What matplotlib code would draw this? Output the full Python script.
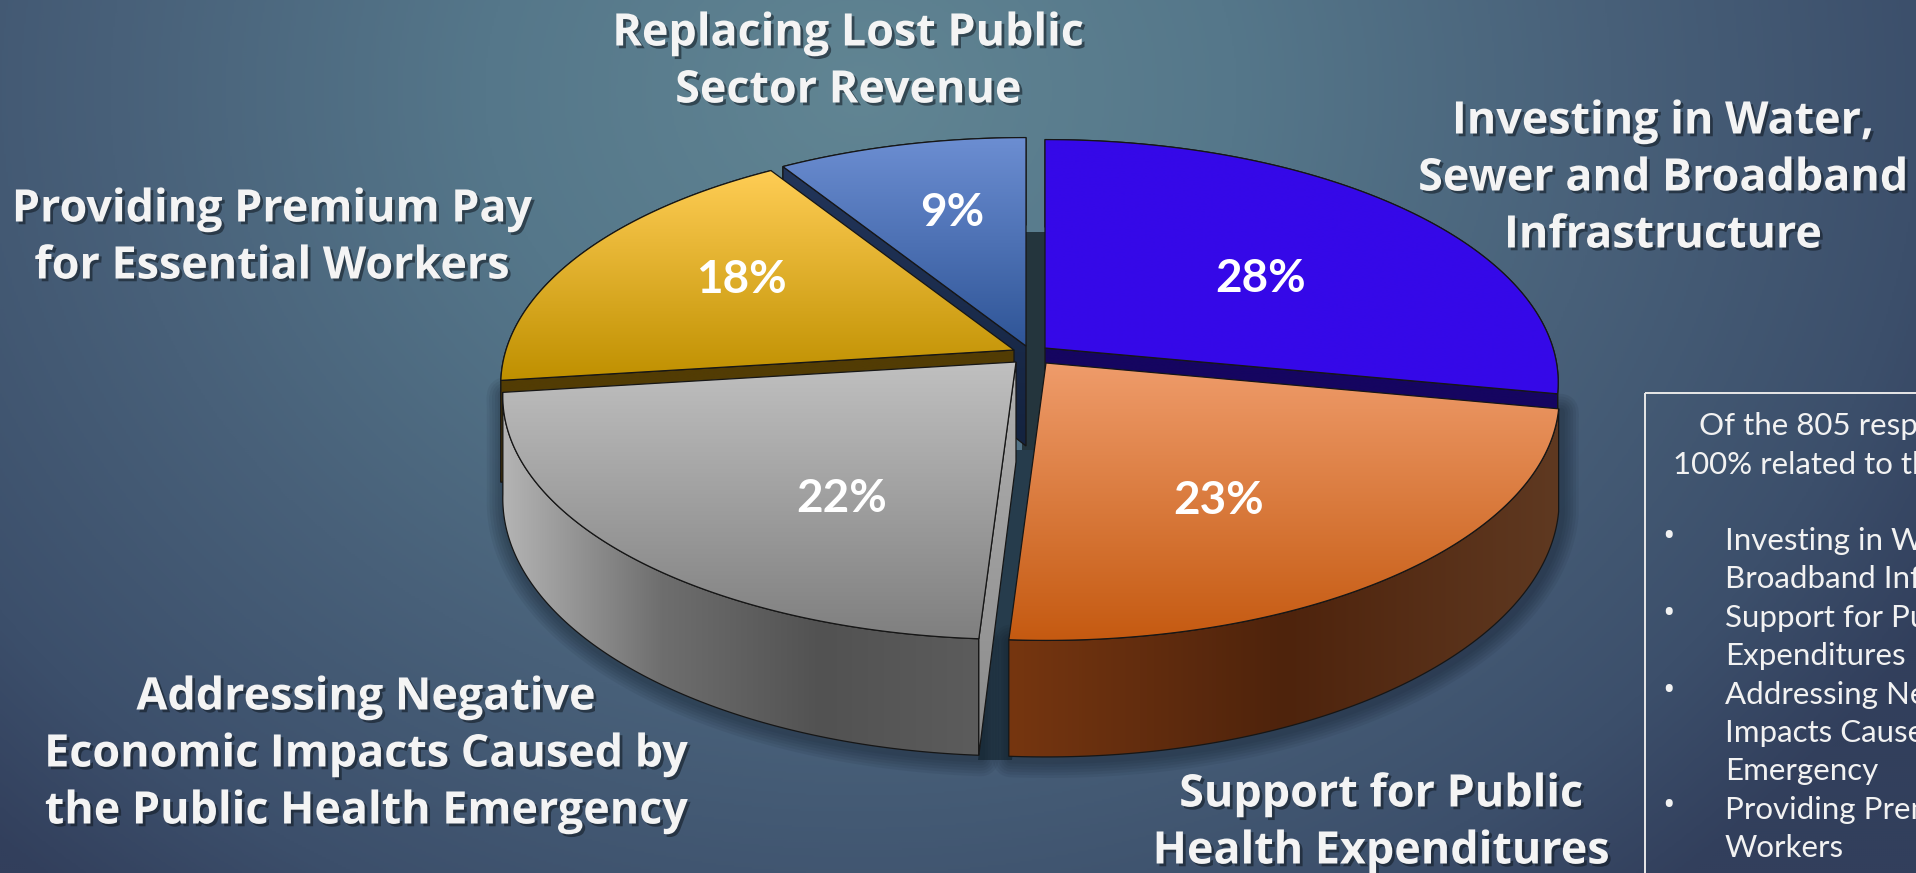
import numpy as np
import matplotlib
matplotlib.use('Agg')
import matplotlib.pyplot as plt
import matplotlib.patheffects as pe
from matplotlib.colors import LinearSegmentedColormap
from matplotlib.patches import Polygon, Rectangle

# data
values = [28, 23, 22, 18, 9]
pct_labels = ['28%', '23%', '22%', '18%', '9%']
slice_names = [
    ['Investing in Water,', 'Sewer and Broadband', 'Infrastructure'],
    ['Support for Public', 'Health Expenditures'],
    ['Addressing Negative', 'Economic Impacts Caused by', 'the Public Health Emergency'],
    ['Providing Premium Pay', 'for Essential Workers'],
    ['Replacing Lost Public', 'Sector Revenue'],
]
box_intro = ['Of the 805 responses,', '100% related to the']
box_lines = [
    ('•', 'Investing in Water, Sewer and'),
    ('', 'Broadband Infrastructure'),
    ('•', 'Support for Public Health'),
    ('', 'Expenditures'),
    ('•', 'Addressing Negative Economic'),
    ('', 'Impacts Caused by the Public Health'),
    ('', 'Emergency'),
    ('•', 'Providing Premium Pay for Essential'),
    ('', 'Workers'),
    ('•', 'Replacing Lost Public Sector Revenue'),
]

# slice styling, same order as values
tips = [(1045, 348), (1046, 363), (1016, 362), (1014, 350), (1026, 346)]
top_colors = [
    ['#3508E8', '#3508E8'],
    ['#EF9C6B', '#C55A11'],
    ['#C0C0C0', '#7F7F7F'],
    ['#FFCD55', '#BF9000'],
    ['#6C8ED2', '#2F5597'],
]
rim_colors = [
    ['#150560', '#150560'],
    ['#763610', '#4E230C', '#5F3921'],
    ['#B4B4B4', '#6E6E6E', '#525252', '#5C5C5C'],
    ['#523C04', '#523C04'],
    ['#1C2E52', '#1C2E52'],
]
# which end of the arc has a visible cut face, None when it is hidden
cut_ends = [-1, None, 0, 0, 0]
cut_colors = [
    ['#150560', '#150560'],
    None,
    ['#B0B0B0', '#8A8A8A'],
    ['#523C04', '#523C04'],
    ['#22355A', '#14233F'],
]
pct_pos = [(1261, 279), (1219, 501), (842, 499), (741, 280), (952, 213)]
name_pos = [(1663, 122), (1381, 795), (366, 698), (272, 210), (848, 34)]

RX, RY, K, DEPTH = 508, 238, 0.142, 100
W, H = 1916, 873

plt.rcParams['font.family'] = ['Open Sans', 'DejaVu Sans']


def disc_point(theta, tip, depth=0):
    x = np.sin(theta)
    y = -np.cos(theta)
    s = 1 / (1 - K * y)
    return np.column_stack([tip[0] + RX * x * s, tip[1] + RY * y * s + depth * s])


def fill_gradient(ax, poly, colors, horizontal=False, zorder=2):
    # gradient image clipped to a polygon, with a thin dark outline
    cmap = LinearSegmentedColormap.from_list('g', colors)
    x0, y0 = poly.min(axis=0)
    x1, y1 = poly.max(axis=0)
    g = np.linspace(0, 1, 256)
    g = g[None, :] if horizontal else g[:, None]
    im = ax.imshow(g, cmap=cmap, extent=(x0, x1, y1, y0), aspect='auto',
                   origin='upper', zorder=zorder, interpolation='bilinear')
    patch = Polygon(poly, closed=True, fc='none', ec='#161616', lw=0.9, zorder=zorder + 0.1)
    ax.add_patch(patch)
    im.set_clip_path(patch)


def soft_shadow(ax, poly, zorder=1.5):
    for lw in range(26, 2, -4):
        ax.add_patch(Polygon(poly + [2, 3], closed=True, fc='none', ec='#0a1420',
                             lw=lw, alpha=0.07, zorder=zorder, joinstyle='round'))


fig = plt.figure(figsize=(W / 100, H / 100), dpi=100)
ax = fig.add_axes([0, 0, 1, 1])

# background
yy, xx = np.mgrid[0:H:2, 0:W:2]
dist = np.sqrt(((xx - 860) / 1250) ** 2 + ((yy - 90) / 1050) ** 2)
bg_cmap = LinearSegmentedColormap.from_list(
    'bg', [(0, '#618593'), (0.3, '#55778A'), (0.6, '#486079'), (0.85, '#3C4F6B'), (1, '#323F5C')])
ax.imshow(np.clip(dist, 0, 1), cmap=bg_cmap, vmin=0, vmax=1, extent=(0, W, H, 0),
          aspect='auto', origin='upper', zorder=0)

# dark gap behind the separated slices
ax.add_patch(Polygon([(1022, 232), (1048, 232), (1048, 450), (1022, 450)], closed=True,
                     fc='#24353D', ec='none', zorder=1))
ax.add_patch(Polygon([(1014, 450), (1048, 450), (1012, 760), (978, 760)], closed=True,
                     fc='#263C4C', ec='none', zorder=1))

# slices drawn back to front
edges = np.cumsum([0] + values) / sum(values) * 2 * np.pi
draw_order = [4, 3, 0, 2, 1]
for n, i in enumerate(draw_order):
    a0, a1 = edges[i], edges[i + 1]
    tip = np.array(tips[i], dtype=float)
    arc = np.linspace(a0, a1, 160)
    top_arc = disc_point(arc, tip)
    low_arc = disc_point(arc, tip, DEPTH)
    z = 2 + n

    rim = np.vstack([top_arc, low_arc[::-1]])
    if i in (1, 2):
        soft_shadow(ax, rim, zorder=1.5)
    fill_gradient(ax, rim, rim_colors[i], horizontal=True, zorder=z)

    # only the cut face that can be seen from the front
    if cut_ends[i] is not None:
        j = cut_ends[i]
        face = np.array([tip, top_arc[j], low_arc[j], tip + [0, DEPTH]])
        fill_gradient(ax, face, cut_colors[i], zorder=z + 0.2)

    top = np.vstack([tip, top_arc])
    fill_gradient(ax, top, top_colors[i], zorder=z + 0.4)

# percentages on the slices
for lab, (x, y) in zip(pct_labels, pct_pos):
    ax.text(x, y, lab, color='white', fontsize=33, fontweight='bold', family=['Lato', 'DejaVu Sans'],
            ha='center', va='center', zorder=20)

# slice names
shadow = [pe.withSimplePatchShadow(offset=(2, -2), shadow_rgbFace='#101820', alpha=0.55)]
for lines, (x, y) in zip(slice_names, name_pos):
    for k, line in enumerate(lines):
        ax.text(x, y + k * 57, line, color='#F4F4F4', fontsize=32.3, fontweight='bold',
                ha='center', va='center', zorder=20, path_effects=shadow)

# notes box, runs off the right edge
ax.add_patch(Rectangle((1645, 393), 400, 600, fc='none', ec='#E8E8E8', lw=1.4, zorder=20))
for k, (line, x) in enumerate(zip(box_intro, (1699, 1673))):
    ax.text(x, 426 + k * 38.5, line, color='#F2F2F2', fontsize=22.5, family=['Lato', 'DejaVu Sans'],
            ha='left', va='center', zorder=20)
for k, (bullet, line) in enumerate(box_lines):
    y = 541 + k * 38.4
    if bullet:
        ax.text(1669, y - 3, bullet, color='#F2F2F2', fontsize=24, ha='center', va='center', zorder=20)
    ax.text(1725, y, line, color='#F2F2F2', fontsize=22.5, family=['Lato', 'DejaVu Sans'],
            ha='left', va='center', zorder=20)

ax.set_xlim(0, W)
ax.set_ylim(H, 0)
ax.axis('off')
fig.savefig('out.png', dpi=100)
